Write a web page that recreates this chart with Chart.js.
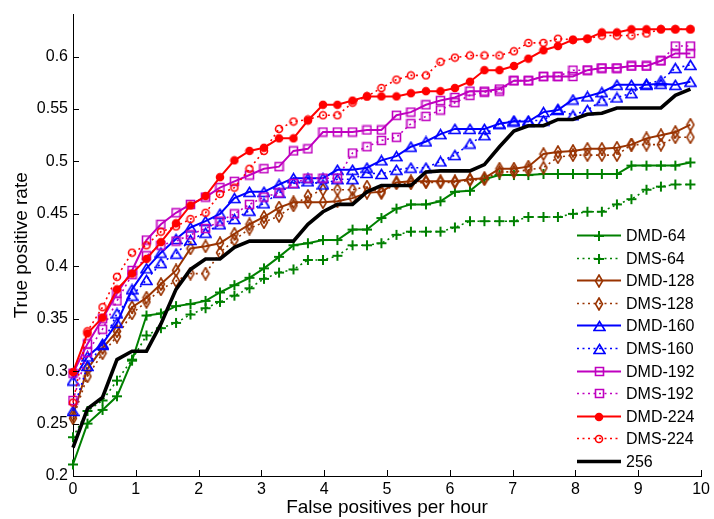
<!DOCTYPE html>
<html><head><meta charset="utf-8">
<script src="https://cdn.jsdelivr.net/npm/chart.js@4/dist/chart.umd.min.js"></script>
<style>html,body{margin:0;padding:0;background:#fff}canvas{display:block}</style>
</head><body>
<canvas id="c" width="714" height="519"></canvas>
<script>
// ---------------- data ----------------
const fpPerHour = [0,0.23,0.47,0.70,0.94,1.17,1.40,1.64,1.87,2.11,2.34,2.57,2.81,3.04,3.28,3.51,3.74,3.98,4.21,4.45,4.68,4.91,5.15,5.38,5.62,5.85,6.08,6.32,6.55,6.79,7.02,7.25,7.49,7.72,7.96,8.19,8.42,8.66,8.89,9.13,9.36,9.59,9.83];
const dmd64  = [0.211,0.250,0.263,0.276,0.310,0.353,0.355,0.362,0.364,0.367,0.375,0.382,0.389,0.398,0.409,0.420,0.422,0.425,0.425,0.435,0.435,0.446,0.455,0.459,0.459,0.462,0.471,0.472,0.483,0.487,0.487,0.487,0.488,0.488,0.488,0.488,0.488,0.488,0.496,0.496,0.496,0.496,0.499];
const dms64  = [0.237,0.262,0.272,0.291,0.311,0.334,0.341,0.346,0.354,0.360,0.366,0.372,0.379,0.388,0.394,0.397,0.406,0.406,0.410,0.420,0.420,0.422,0.430,0.433,0.433,0.433,0.437,0.443,0.443,0.443,0.443,0.447,0.447,0.447,0.450,0.452,0.452,0.459,0.464,0.473,0.476,0.478,0.478];
const dmd128 = [0.258,0.302,0.322,0.338,0.361,0.370,0.383,0.396,0.417,0.419,0.422,0.431,0.440,0.447,0.456,0.461,0.461,0.461,0.462,0.465,0.470,0.471,0.480,0.481,0.481,0.481,0.481,0.483,0.484,0.493,0.493,0.495,0.507,0.509,0.510,0.512,0.512,0.513,0.516,0.522,0.525,0.528,0.535];
const dms128 = [0.255,0.295,0.317,0.333,0.355,0.366,0.378,0.386,0.393,0.393,0.413,0.425,0.436,0.442,0.448,0.458,0.467,0.473,0.473,0.473,0.476,0.470,0.479,0.479,0.480,0.480,0.480,0.482,0.483,0.490,0.490,0.492,0.494,0.504,0.506,0.506,0.506,0.506,0.516,0.516,0.516,0.523,0.523];
const dmd160 = [0.291,0.314,0.326,0.346,0.378,0.398,0.413,0.426,0.437,0.443,0.450,0.465,0.471,0.471,0.478,0.484,0.484,0.484,0.492,0.492,0.494,0.501,0.505,0.514,0.519,0.526,0.531,0.531,0.531,0.536,0.538,0.538,0.547,0.549,0.559,0.562,0.566,0.573,0.573,0.573,0.574,0.573,0.576];
const dms160 = [0.262,0.305,0.325,0.355,0.372,0.387,0.403,0.412,0.425,0.432,0.440,0.445,0.453,0.460,0.470,0.479,0.481,0.478,0.483,0.483,0.489,0.488,0.492,0.494,0.494,0.500,0.506,0.517,0.525,0.536,0.539,0.539,0.539,0.550,0.544,0.549,0.558,0.561,0.565,0.574,0.577,0.589,0.592];
const dmd192 = [0.298,0.326,0.350,0.374,0.396,0.425,0.440,0.451,0.459,0.466,0.475,0.481,0.487,0.493,0.495,0.510,0.512,0.528,0.528,0.528,0.530,0.530,0.544,0.547,0.554,0.558,0.561,0.567,0.567,0.569,0.577,0.577,0.581,0.581,0.581,0.587,0.589,0.589,0.591,0.591,0.596,0.603,0.603];
const dms192 = [0.272,0.318,0.340,0.367,0.392,0.410,0.420,0.424,0.430,0.436,0.443,0.450,0.459,0.466,0.470,0.479,0.484,0.484,0.484,0.508,0.514,0.520,0.523,0.536,0.543,0.549,0.556,0.563,0.566,0.567,0.577,0.577,0.581,0.581,0.587,0.587,0.589,0.589,0.591,0.591,0.596,0.610,0.610];
const dmd224 = [0.299,0.336,0.351,0.378,0.393,0.407,0.423,0.441,0.458,0.467,0.485,0.501,0.510,0.513,0.522,0.522,0.539,0.554,0.554,0.558,0.562,0.562,0.562,0.565,0.567,0.567,0.570,0.576,0.587,0.587,0.591,0.598,0.606,0.610,0.616,0.617,0.623,0.623,0.626,0.626,0.626,0.626,0.626];
const dms224 = [0.270,0.338,0.361,0.390,0.413,0.420,0.433,0.438,0.445,0.451,0.469,0.475,0.493,0.510,0.531,0.538,0.540,0.544,0.544,0.556,0.562,0.570,0.578,0.582,0.582,0.595,0.599,0.601,0.601,0.601,0.605,0.613,0.613,0.617,0.616,0.617,0.620,0.620,0.620,0.622,0.626,0.626,0.626];
const full256 = [0.227,0.264,0.275,0.311,0.319,0.319,0.345,0.378,0.397,0.407,0.407,0.418,0.424,0.424,0.424,0.424,0.440,0.452,0.459,0.459,0.471,0.477,0.477,0.477,0.490,0.491,0.491,0.491,0.497,0.514,0.529,0.534,0.534,0.540,0.540,0.545,0.546,0.551,0.551,0.551,0.551,0.563,0.569];

const seriesNames = ['DMD-64','DMS-64','DMD-128','DMS-128','DMD-160','DMS-160','DMD-192','DMS-192','DMD-224','DMS-224','256'];
const seriesValues = [dmd64,dms64,dmd128,dms128,dmd160,dms160,dmd192,dms192,dmd224,dms224,full256];
const xTicks = [0,1,2,3,4,5,6,7,8,9,10];
const yTicks = [0.2,0.25,0.3,0.35,0.4,0.45,0.5,0.55,0.6];
const xTitle = 'False positives per hour';
const yTitle = 'True positive rate';

// ---------------- styles ----------------
const GREEN='#008000', BROWN='#993300', BLUE='#0000ff', MAG='#bf00bf', RED='#ff0000';
function markerCanvas(shape, color, filled){
  const c=document.createElement('canvas');
  const dims={plus:[12,12],diamond:[10,14],triangle:[13,12],square:[11,11],circle:[10,10]}[shape];
  c.width=dims[0]; c.height=dims[1];
  const g=c.getContext('2d'); const w=c.width,h=c.height;
  g.strokeStyle=color; g.fillStyle=color; g.lineWidth=1.6; g.beginPath();
  if(shape==='plus'){ g.lineWidth=2; g.moveTo(1,h/2);g.lineTo(w-1,h/2);g.moveTo(w/2,1);g.lineTo(w/2,h-1);g.stroke(); }
  else if(shape==='diamond'){ g.moveTo(w/2,1);g.lineTo(w-1.5,h/2);g.lineTo(w/2,h-1);g.lineTo(1.5,h/2);g.closePath();g.stroke(); }
  else if(shape==='triangle'){ g.moveTo(w/2,1.5);g.lineTo(w-1,h-1.5);g.lineTo(1,h-1.5);g.closePath();g.stroke(); }
  else if(shape==='square'){ g.rect(1.5,1.5,w-3,h-3);g.stroke(); }
  else if(shape==='circle'){ g.arc(w/2,h/2,w/2-1.5,0,Math.PI*2); if(filled) g.fill(); g.stroke(); }
  return c;
}
const solid=[], dotted=[2,3.5];
const styles=[
  {color:GREEN, dash:solid,  width:2,   marker:markerCanvas('plus',GREEN)},
  {color:GREEN, dash:dotted, width:1.6, marker:markerCanvas('plus',GREEN)},
  {color:BROWN, dash:solid,  width:2,   marker:markerCanvas('diamond',BROWN)},
  {color:BROWN, dash:dotted, width:1.6, marker:markerCanvas('diamond',BROWN)},
  {color:BLUE,  dash:solid,  width:2,   marker:markerCanvas('triangle',BLUE)},
  {color:BLUE,  dash:dotted, width:1.6, marker:markerCanvas('triangle',BLUE)},
  {color:MAG,   dash:solid,  width:2,   marker:markerCanvas('square',MAG)},
  {color:MAG,   dash:dotted, width:1.6, marker:markerCanvas('square',MAG)},
  {color:RED,   dash:solid,  width:2,   marker:markerCanvas('circle',RED,true)},
  {color:RED,   dash:dotted, width:1.6, marker:markerCanvas('circle',RED,false)},
  {color:'#000000', dash:solid, width:3.6, marker:false}
];

const datasets = seriesNames.map((name,k)=>({
  label:name,
  data: fpPerHour.map((x,i)=>({x:x,y:seriesValues[k][i]})),
  borderColor:styles[k].color,
  borderWidth:styles[k].width,
  borderDash:styles[k].dash,
  pointStyle:styles[k].marker || 'circle',
  pointRadius:styles[k].marker ? 5 : 0,
  pointHoverRadius:styles[k].marker ? 5 : 0,
  backgroundColor:'rgba(0,0,0,0)',
  tension:0,
  fill:false,
  clip:false,
  order:seriesNames.length-k
}));

const FONT='"Liberation Sans", Arial, Helvetica, sans-serif';
Chart.defaults.font.family=FONT;
Chart.defaults.color='#000';

const decor = {
  id:'decor',
  afterDraw(chart){
    const ctx=chart.ctx, a=chart.chartArea, xs=chart.scales.x, ys=chart.scales.y;
    ctx.save();
    ctx.strokeStyle='#000'; ctx.lineWidth=1; ctx.setLineDash([]);
    ctx.beginPath();
    xTicks.forEach(v=>{const p=Math.round(xs.getPixelForValue(v))+0.5; ctx.moveTo(p,a.bottom); ctx.lineTo(p,a.bottom-6);});
    yTicks.forEach(v=>{const p=Math.round(ys.getPixelForValue(v))+0.5; ctx.moveTo(a.left,p); ctx.lineTo(a.left+6,p);});
    ctx.stroke();
    // legend
    const lx0=577, lx1=621, tx=626, y0=235, dy=22.6;
    chart.data.datasets.forEach((ds,k)=>{
      const y=Math.round(y0+k*dy)+0.5;
      ctx.strokeStyle=ds.borderColor; ctx.lineWidth=ds.borderWidth; ctx.setLineDash(ds.borderDash);
      ctx.beginPath(); ctx.moveTo(lx0,y); ctx.lineTo(lx1,y); ctx.stroke();
      ctx.setLineDash([]);
      const m=styles[k].marker;
      if(m){ ctx.drawImage(m, Math.round((lx0+lx1)/2 - m.width/2), Math.round(y - m.height/2)); }
      ctx.fillStyle='#000'; ctx.font='16px '+FONT; ctx.textBaseline='middle'; ctx.textAlign='left';
      ctx.fillText(ds.label, tx, y+1);
    });
    ctx.restore();
  }
};

new Chart(document.getElementById('c'),{
  type:'line',
  data:{datasets},
  options:{
    responsive:false, animation:false, devicePixelRatio:1,
    layout:{padding:{top:7.5,right:7,left:0,bottom:0}, autoPadding:false},
    plugins:{legend:{display:false}, tooltip:{enabled:false}},
    scales:{
      x:{type:'linear', min:0, max:10,
         afterBuildTicks:s=>{s.ticks=xTicks.map(v=>({value:v}));},
         afterFit:s=>{s.height=43;},
         grid:{display:false, drawTicks:false}, border:{display:true,color:'#000',width:1},
         ticks:{padding:4, maxRotation:0, autoSkip:false, font:{size:16}, color:'#000', callback:v=>String(v)},
         title:{display:true, text:xTitle, font:{size:19}, color:'#000', padding:{top:0,bottom:0}}},
      y:{type:'linear', min:0.2, max:0.64,
         afterBuildTicks:s=>{s.ticks=yTicks.map(v=>({value:v}));},
         afterFit:s=>{s.width=73;},
         grid:{display:false, drawTicks:false}, border:{display:true,color:'#000',width:1},
         ticks:{padding:5, autoSkip:false, font:{size:16}, color:'#000', callback:v=>String(+v.toFixed(2))},
         title:{display:true, text:yTitle, font:{size:19}, color:'#000', padding:{top:10,bottom:0}}}
    }
  },
  plugins:[decor]
});
</script>
</body></html>
